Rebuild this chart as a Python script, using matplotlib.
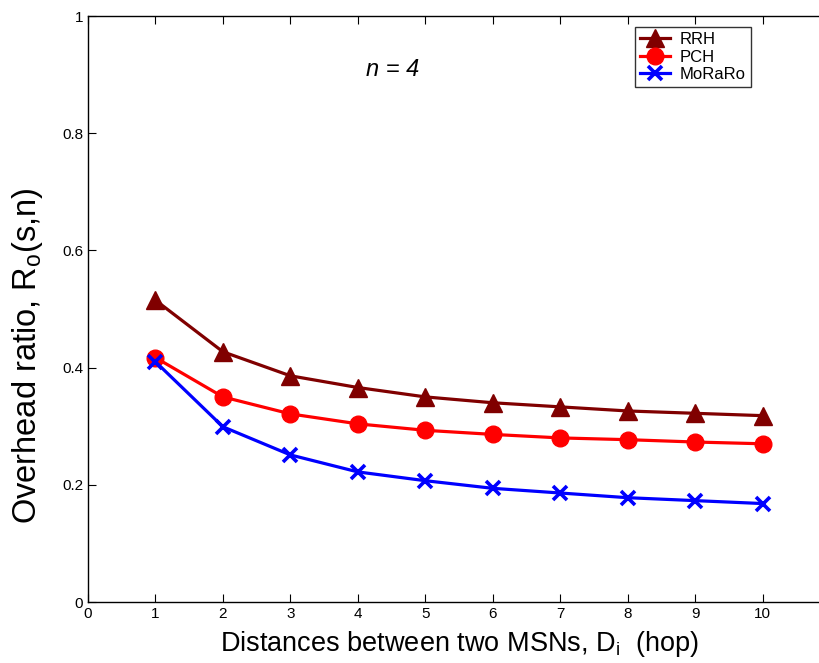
import matplotlib
matplotlib.use('Agg')
import matplotlib.pyplot as plt
from matplotlib.ticker import FuncFormatter

plt.rcParams['font.family'] = ['Liberation Sans', 'DejaVu Sans']
plt.rcParams['mathtext.fontset'] = 'custom'
plt.rcParams['mathtext.rm'] = 'Liberation Sans'
plt.rcParams['mathtext.it'] = 'Liberation Sans:italic'

# data
hops = [1, 2, 3, 4, 5, 6, 7, 8, 9, 10]
rrh = [0.515, 0.427, 0.386, 0.366, 0.350, 0.340, 0.333, 0.326, 0.322, 0.318]
pch = [0.417, 0.350, 0.321, 0.304, 0.293, 0.286, 0.280, 0.277, 0.273, 0.270]
moraro = [0.410, 0.299, 0.251, 0.222, 0.207, 0.194, 0.186, 0.178, 0.173, 0.168]

fig = plt.figure(figsize=(8.2, 6.63), dpi=100)
# axes run past the right edge, as in the cropped original
ax = fig.add_axes([88 / 820, 61 / 663, 742 / 820, 586 / 663])

ax.plot(hops, rrh, color='#800000', lw=2.3, marker='^', ms=13, label='RRH')
ax.plot(hops, pch, color='red', lw=2.3, marker='o', ms=12, label='PCH')
ax.plot(hops, moraro, color='blue', lw=2.3, marker='x', ms=10, mew=2.6, label='MoRaRo')

ax.set_xlim(0, 11)
ax.set_ylim(0, 1)
ax.set_xticks(range(0, 11))
ax.set_yticks([0, 0.2, 0.4, 0.6, 0.8, 1])
ax.yaxis.set_major_formatter(FuncFormatter(lambda v, p: '%g' % v))
ax.tick_params(direction='in', top=True, right=True, length=6, width=0.8, labelsize=11)
for s in ax.spines.values():
    s.set_linewidth(1.0)

ax.set_xlabel('Distances between two MSNs, $\\mathregular{D_i}$  (hop)', fontsize=19.5, labelpad=6)
ax.set_ylabel('Overhead ratio, $\\mathregular{R_o}$(s,n)', fontsize=23.5)
ax.yaxis.set_label_coords(-0.058, 0.42)

fig.text(393 / 820, 1 - 69 / 663, 'n = 4', fontsize=17, style='italic', ha='center', va='center')

ax.legend(loc='upper left', bbox_to_anchor=(635 / 820, 1 - 27 / 663), bbox_transform=fig.transFigure,
          fontsize=12, frameon=True, fancybox=False, edgecolor='black', borderpad=0.3,
          labelspacing=0.15, handlelength=1.8, handletextpad=0.6, borderaxespad=0)

fig.savefig('out.png', dpi=100)
